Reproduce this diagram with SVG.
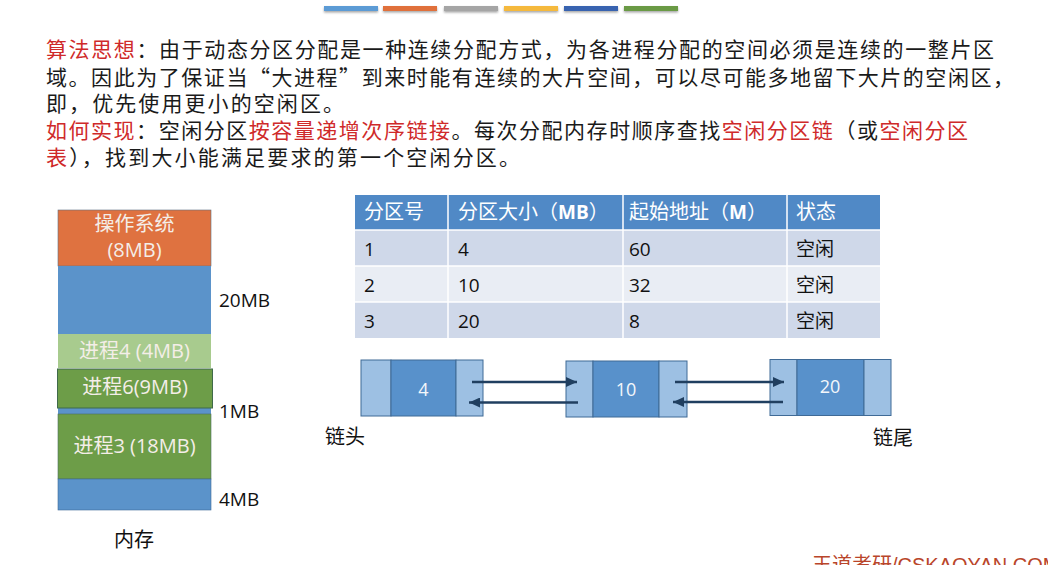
<svg xmlns="http://www.w3.org/2000/svg" width="1048" height="565" viewBox="0 0 1048 565">
<style>
.para{font-family:"Noto Sans CJK SC","Noto Sans",sans-serif;font-size:21px;fill:#1a1a1a}
.red{fill:#cf2a2a}
.lbl{font-family:"Open Sans","Noto Sans CJK SC",sans-serif;font-size:20px}
.wt{fill:#f4eee8}
.side{font-family:"Open Sans","Noto Sans CJK SC",sans-serif;font-size:19px;fill:#111}
.th{font-family:"Noto Sans CJK SC","Open Sans",sans-serif;font-size:20px;fill:#fff}
.td{font-family:"Open Sans","Noto Sans CJK SC",sans-serif;font-size:19px;fill:#111}
.light{fill:#9dc0e3;stroke:#3f6a96;stroke-width:1}
.mid{fill:#5891cb;stroke:#3f6a96;stroke-width:1}
.num{font-family:"Open Sans",sans-serif;font-size:18px;fill:#f4f7fb;text-anchor:middle}
.arr{stroke:#203f60;stroke-width:2.5;fill:none;marker-end:url(#ah)}
</style>
<defs>
<marker id="ah" markerUnits="userSpaceOnUse" markerWidth="12" markerHeight="10" refX="11" refY="5" orient="auto">
<path d="M0,0 L11,5 L0,10 z" fill="#203f60"/>
</marker>
<filter id="sh" x="-10%" y="-50%" width="120%" height="250%">
<feDropShadow dx="0" dy="1.5" stdDeviation="1" flood-color="#000" flood-opacity="0.35"/>
</filter>
</defs>
<rect width="1048" height="565" fill="#fff"/>

<g id="topbars" filter="url(#sh)">
<rect x="324" y="6" width="54" height="5" fill="#5b9bd5"/>
<rect x="383" y="6" width="54" height="5" fill="#e0703a"/>
<rect x="444" y="6" width="54" height="5" fill="#a5a5a5"/>
<rect x="504" y="6" width="54" height="5" fill="#f5b93e"/>
<rect x="564" y="6" width="54" height="5" fill="#3763b0"/>
<rect x="624" y="6" width="54" height="5" fill="#6b9a45"/>
</g>

<g id="paragraph">
<text class="para" x="46" y="57" textLength="948" lengthAdjust="spacing"><tspan class="red">算法思想</tspan>：由于动态分区分配是一种连续分配方式，为各进程分配的空间必须是连续的一整片区</text>
<text class="para" x="46" y="85" textLength="968" lengthAdjust="spacing">域。因此为了保证当“大进程”到来时能有连续的大片空间，可以尽可能多地留下大片的空闲区，</text>
<text class="para" x="46" y="111" textLength="298" lengthAdjust="spacing">即，优先使用更小的空闲区。</text>
<text class="para" x="46" y="138" textLength="922" lengthAdjust="spacing"><tspan class="red">如何实现</tspan>：空闲分区<tspan class="red">按容量递增次序链接</tspan>。每次分配内存时顺序查找<tspan class="red">空闲分区链</tspan>（或<tspan class="red">空闲分区</tspan></text>
<text class="para" x="46" y="165" textLength="474" lengthAdjust="spacing"><tspan class="red">表</tspan>），找到大小能满足要求的第一个空闲分区。</text>
</g>

<g id="memory">
<rect x="58" y="210" width="153" height="56" fill="#df7240" stroke="#5f6f80" stroke-width="0.6"/>
<text class="lbl wt" x="134.5" y="231" text-anchor="middle" font-size="21">操作系统</text>
<text class="lbl wt" x="134.5" y="257" text-anchor="middle" font-size="19">(8MB)</text>
<rect x="58" y="266" width="153" height="68" fill="#5b93ca"/>
<rect x="58" y="334" width="153" height="34" fill="#a8cb8e"/>
<text class="lbl wt" x="134.5" y="358" text-anchor="middle">进程4 (4MB)</text>
<rect x="58" y="408" width="153" height="6" fill="#5b93ca"/>
<rect x="57.5" y="369" width="155" height="39" fill="#6d9d48" stroke="#3f6a4a" stroke-width="1"/>
<text class="lbl wt" x="135" y="394" text-anchor="middle">进程6(9MB)</text>
<rect x="58" y="414" width="153" height="65" fill="#6d9d48" stroke="#4c6e60" stroke-width="0.6"/>
<text class="lbl wt" x="134.5" y="453" text-anchor="middle">进程3 (18MB)</text>
<rect x="58" y="479" width="153" height="31" fill="#5b93ca" stroke="#3f6a96" stroke-width="0.6"/>
<text class="side" x="219" y="307">20MB</text>
<text class="side" x="219" y="418">1MB</text>
<text class="side" x="219" y="506">4MB</text>
<text class="lbl" x="114" y="547" fill="#111" font-size="21">内存</text>
</g>

<g id="table">
<rect x="355" y="195" width="525" height="35" fill="#5089c6"/>
<rect x="355" y="230" width="525" height="36" fill="#cfd8e9"/>
<rect x="355" y="266" width="525" height="36" fill="#e9edf4"/>
<rect x="355" y="302" width="525" height="36" fill="#cfd8e9"/>
<g stroke="#fff" stroke-width="1.5">
<line x1="355" y1="230" x2="880" y2="230"/>
<line x1="355" y1="266" x2="880" y2="266"/>
<line x1="355" y1="302" x2="880" y2="302"/>
<line x1="448" y1="195" x2="448" y2="338"/>
<line x1="623" y1="195" x2="623" y2="338"/>
<line x1="787" y1="195" x2="787" y2="338"/>
</g>
<text class="th" x="364" y="219">分区号</text>
<text class="th" x="458" y="219">分区大小（<tspan font-family="Open Sans" font-weight="bold" font-size="19">MB</tspan>）</text>
<text class="th" x="629" y="219">起始地址（<tspan font-family="Open Sans" font-weight="bold" font-size="19">M</tspan>）</text>
<text class="th" x="796" y="219">状态</text>
<text class="td" x="364" y="256">1</text>
<text class="td" x="458" y="256">4</text>
<text class="td" x="629" y="256">60</text>
<text class="td" x="796" y="256">空闲</text>
<text class="td" x="364" y="292">2</text>
<text class="td" x="458" y="292">10</text>
<text class="td" x="629" y="292">32</text>
<text class="td" x="796" y="292">空闲</text>
<text class="td" x="364" y="328">3</text>
<text class="td" x="458" y="328">20</text>
<text class="td" x="629" y="328">8</text>
<text class="td" x="796" y="328">空闲</text>
</g>

<g id="node1">
<rect class="light" x="361" y="360" width="30" height="56"/>
<rect class="mid" x="391" y="360" width="65" height="56"/>
<rect class="light" x="456" y="360" width="27" height="56"/>
<text class="num" x="423.5" y="395.5">4</text>
</g>
<g id="node2">
<rect class="light" x="566" y="361" width="27" height="56"/>
<rect class="mid" x="593" y="361" width="66" height="56"/>
<rect class="light" x="659" y="361" width="28" height="56"/>
<text class="num" x="626" y="396">10</text>
</g>
<g id="node3">
<rect class="light" x="770" y="359.5" width="27" height="56"/>
<rect class="mid" x="797" y="359.5" width="67" height="56"/>
<rect class="light" x="864" y="359.5" width="27" height="56"/>
<text class="num" x="830" y="393">20</text>
</g>

<g id="connectors">
<line class="arr" x1="472" y1="382" x2="577" y2="382"/>
<line class="arr" x1="578" y1="402.5" x2="469" y2="402.5"/>
<line class="arr" x1="675" y1="382" x2="784" y2="382"/>
<line class="arr" x1="783" y1="402" x2="673" y2="402"/>
</g>

<g id="labels">
<text class="lbl" x="325" y="444" fill="#111">链头</text>
<text class="lbl" x="873" y="445" fill="#111">链尾</text>
<text x="812" y="572" font-family="'Liberation Sans','Noto Sans CJK SC',sans-serif" font-size="20" fill="#b9452a">王道考研/CSKAOYAN.COM</text>
</g>
</svg>
